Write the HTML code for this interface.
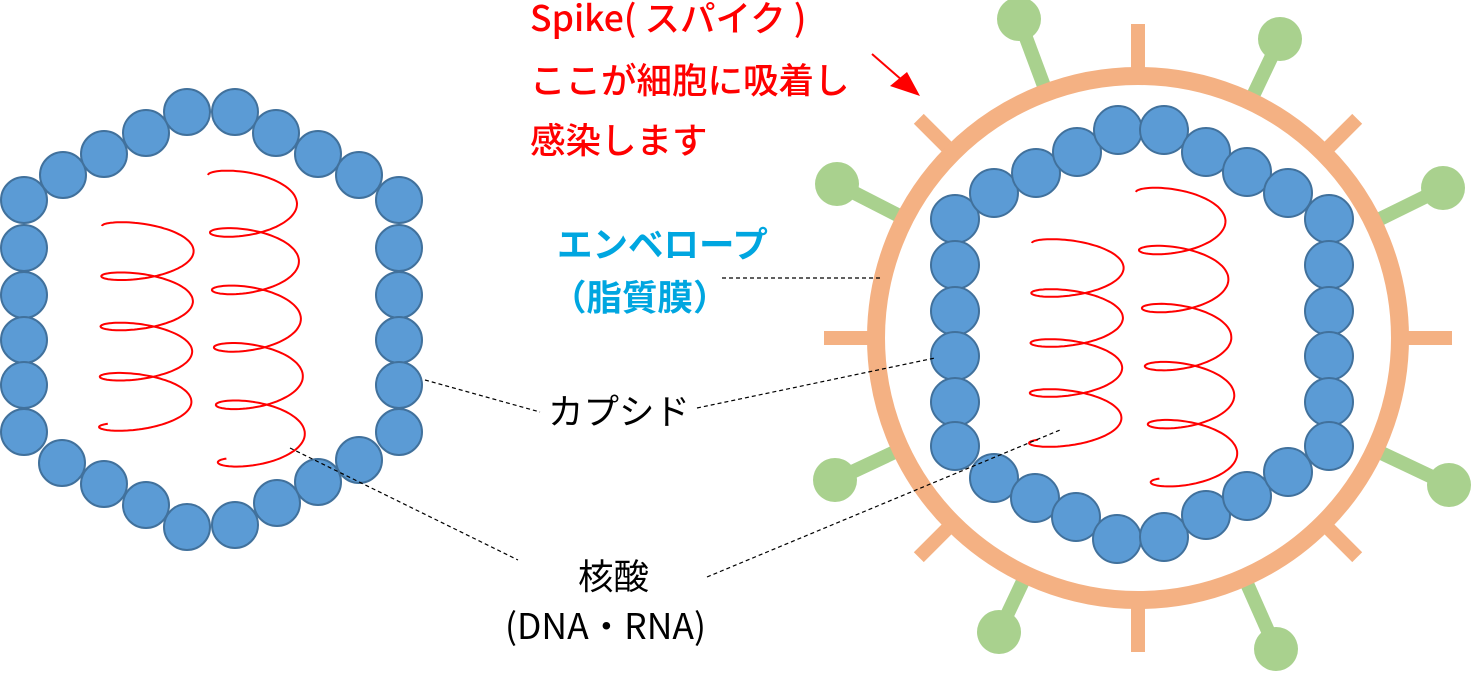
<!DOCTYPE html>
<html><head><meta charset="utf-8"><style>
html,body{margin:0;padding:0;background:#fff;}
body{width:1476px;height:686px;overflow:hidden;position:relative;font-family:"Noto Sans CJK JP","Liberation Sans",sans-serif;}
.t{position:absolute;white-space:nowrap;font-size:35.5px;line-height:1;}
</style></head><body>
<svg id="s" width="1476" height="686" style="position:absolute;left:0;top:0">
<g id="green" stroke="#a9d18e" stroke-width="14" fill="#a9d18e"></g>
<g id="orange" stroke="#f4b183" stroke-width="14" fill="none"></g>
<circle cx="1138" cy="338" r="262" stroke="#f4b183" stroke-width="18" fill="#fff"/>
<g id="beads" fill="#5b9bd5" stroke="#41719c" stroke-width="2"></g>
<g id="helix" stroke="#ff0000" stroke-width="2" fill="none"></g>
<g stroke="#000" stroke-width="1.2" stroke-dasharray="4,3" fill="none">
<line x1="425" y1="380" x2="540" y2="412"/>
<line x1="697" y1="408" x2="935" y2="358"/>
<line x1="290" y1="448" x2="518" y2="560"/>
<line x1="707" y1="577" x2="1060" y2="430"/>
<line x1="722" y1="278" x2="880" y2="278"/>
</g>
<line x1="872" y1="54" x2="903" y2="81" stroke="#ff0000" stroke-width="2"/>
<polygon points="920,96 890,86 907,72" fill="#ff0000"/>
</svg>
<div class="t" style="left:530px;top:-1px;color:#ff0000;font-weight:500">Spike( スパイク )</div>
<div class="t" style="left:530px;top:61px;color:#ff0000;font-weight:500">ここが細胞に吸着し</div>
<div class="t" style="left:530px;top:121px;color:#ff0000;font-weight:500">感染します</div>
<div class="t" style="left:557px;top:225px;color:#00a6e0;font-weight:bold">エンベロープ</div>
<div class="t" style="left:551px;top:278px;color:#00a6e0;font-weight:bold">（脂質膜）</div>
<div class="t" style="left:548px;top:392px;color:#000">カプシド</div>
<div class="t" style="left:578px;top:557px;color:#000">核酸</div>
<div class="t" style="left:505px;top:607px;color:#000">(DNA・RNA)</div>
<script>
var NS="http://www.w3.org/2000/svg";
function el(p,n,a){var e=document.createElementNS(NS,n);for(var k in a)e.setAttribute(k,a[k]);document.getElementById(p).appendChild(e);}
var cx=1138,cy=338;
for(var i=0;i<8;i++){var a=i*Math.PI/4;var r1=260,r2=i%2?310:314;
el("orange","line",{x1:cx+r1*Math.cos(a),y1:cy+r1*Math.sin(a),x2:cx+r2*Math.cos(a),y2:cy+r2*Math.sin(a)});}
[[1019,19],[1280,39],[837,184],[1443,188],[835,480],[1449,485],[999,632],[1276,649]].forEach(function(p){
var dx=p[0]-cx,dy=p[1]-cy,d=Math.sqrt(dx*dx+dy*dy);
el("green","line",{x1:cx+dx/d*250,y1:cy+dy/d*250,x2:p[0],y2:p[1]});
el("green","circle",{cx:p[0],cy:p[1],r:22,stroke:"none"});});
var B=[];
[200,248,295,340,385,432].forEach(function(y){B.push([24,y,23],[399,y,23]);});
[[63,175],[104,154],[146,133],[187,112],[235,112],[276,133],[318,154],[359,175],
[62,463],[104,484],[146,505],[187,527],[235,525],[277,503],[318,482],[359,460]].forEach(function(p){B.push([p[0],p[1],23]);});
[219,265,311,356,402,446].forEach(function(y){B.push([955,y,24],[1329,y,24]);});
[[994,193],[1036,173],[1077,152],[1118,130],[1164,130],[1206,152],[1247,172],[1288,193],
[994,478],[1035,498],[1076,517],[1117,539],[1164,537],[1206,515],[1247,496],[1288,472]].forEach(function(p){B.push([p[0],p[1],24]);});
B.forEach(function(b){el("beads","circle",{cx:b[0],cy:b[1],r:b[2]});});
function helix(x0,x1,y0,y1,A,Bh,turns){var d="",N=400,T=turns*2*Math.PI;
for(var i=0;i<=N;i++){var t=i/N*T,f=i/N;var x=x0+(x1-x0)*f-A*Math.cos(t),y=y0+(y1-y0)*f-Bh*Math.sin(t);
d+=(i?"L":"M")+x.toFixed(1)+","+y.toFixed(1);}el("helix","path",{d:d});}
helix(148,145,226,432,46,14,4.1);
helix(252,262,175,468,44,16,5.1);
helix(1078,1075,243,448,46,14,4.1);
helix(1180,1195,192,488,44,16,5.1);
</script>
</body></html>
